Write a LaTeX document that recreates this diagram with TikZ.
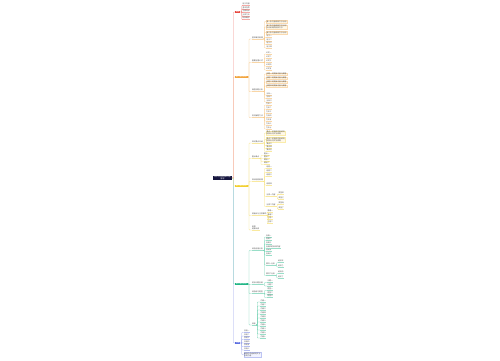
\documentclass[tikz,border=0pt]{standalone}
\usepackage{fontspec}
\newfontfamily\cjk{Noto Sans CJK SC}
\definecolor{cR}{HTML}{E8453C}
\definecolor{cO}{HTML}{F2A33A}
\definecolor{cY}{HTML}{F2CF2A}
\definecolor{cG}{HTML}{1DB584}
\definecolor{cB}{HTML}{5A6CE0}
\definecolor{cN}{HTML}{16163F}
\definecolor{bxO}{HTML}{FFF8E8}
\definecolor{bxB}{HTML}{F2F4FF}
\tikzset{
 tx/.style={font=\cjk\fontsize{1.8}{2.1}\selectfont, text=black!70, inner sep=0.3pt},
 lf/.style={tx, anchor=south west, inner ysep=0.4pt},
 l1/.style={tx, anchor=west, fill=#1, text=white, inner xsep=0.8pt, inner ysep=0.6pt},
 bxs/.style={tx, anchor=west, fill=bxO, draw=#1!40, line width=0.2pt, align=left, inner sep=0.5pt},
 cn/.style={draw=#1!60, line width=0.3pt, rounded corners=0.6pt},
 ul/.style={draw=#1!45, line width=0.25pt},
}
\newcommand\lf[4]{\node[lf] (#1) at (#3) {#4}; \draw[ul=#2] (#1.south west) -- (#1.south east);}
\newcommand\cnx[3]{\draw[cn=#1] (#2) -- ++(1.2,0) |- (#3);}
\begin{document}
\begin{tikzpicture}[x=1pt,y=-1pt]
\useasboundingbox (0,0) rectangle (500,360);
\fill[white] (0,0) rectangle (500,360);
% root
\node[tx, fill=cN, text=white, align=center, inner xsep=1pt, inner ysep=0.6pt] (root) at (222.5,178) {知识点总结思维导图\\整理};
% level 1
\node[l1=cR] (R) at (235,12) {概述};
\node[l1=cO] (O) at (235,77) {第一部分知识};
\node[l1=cY] (Y) at (235,186) {第二部分知识};
\node[l1=cG] (G) at (235,284) {第三部分知识};
\node[l1=cB] (B) at (235,343) {总结};
\draw[cn=cB] (root.east) -- (233.5,178) |- (B.west);
\draw[cn=cG] (root.east) -- (233.5,178) |- (G.west);
\draw[cn=cY] (root.east) -- (233.5,178) |- (Y.west);
\draw[cn=cO] (root.east) -- (233.5,178) |- (O.west);
\draw[cn=cR] (root.east) -- (233.5,178) |- (R.west);
% red
\foreach \y/\t [count=\i] in {5.5/定义内容,9/基本性质,12.5/主要特点,16/分类方法,19.5/相关概念}{
 \lf{r\i}{cR}{242,\y}{\t} \cnx{cR}{R.east}{r\i.south west}}
% orange
\lf{o1}{cO}{251.5,39}{基本概念梳理}
\lf{o2}{cO}{251.5,62.5}{重要定理公式}
\lf{o3}{cO}{251.5,91.5}{典型例题分析}
\lf{o4}{cO}{251.5,117.5}{常见解题方法}
\foreach \n in {o1,o2,o3,o4}{\cnx{cO}{O.east}{\n.south west}}
\node[bxs=cO] (ob1) at (266,21.5) {第一条内容说明文字示例};
\node[bxs=cO] (ob2) at (266,27) {第二条内容说明文字示例\\补充说明的相关文字};
\node[bxs=cO] (ob3) at (266,32.5) {第三条内容说明文字示例};
\foreach \n in {ob1,ob2,ob3}{\cnx{cO}{o1.south east}{\n.west}}
\foreach \y/\t [count=\i] in {37.5/定义一,41/定义二,44.5/定义三,48/定义四}{
 \lf{oa\i}{cO}{266,\y}{\t} \cnx{cO}{o1.south east}{oa\i.south west}}
\foreach \y/\t [count=\i] in {54/公式一,58/公式二,62/公式三,66/公式四,70/公式五}{
 \lf{ob\i x}{cO}{265.5,\y}{\t} \cnx{cO}{o2.south east}{ob\i x.south west}}
\node[bxs=cO] (oc1) at (266,74) {例题一的题目内容与解答};
\node[bxs=cO] (oc2) at (266,78) {例题二的题目内容与解答};
\node[bxs=cO] (oc3) at (266,82) {例题三的题目内容与解答};
\node[bxs=cO] (oc4) at (266,86) {例题四的题目内容与解答};
\foreach \n in {oc1,oc2,oc3,oc4}{\cnx{cO}{o3.south east}{\n.west}}
\foreach \y/\t [count=\i] in {95/分析一,98.5/分析二,102/分析三}{
 \lf{od\i}{cO}{266,\y}{\t} \cnx{cO}{o3.south east}{od\i.south west}}
\foreach \y/\t [count=\i] in {105/方法一,109/方法二,113/方法三,117/方法四,121/方法五,125/方法六,129/方法七}{
 \lf{oe\i}{cO}{265.5,\y}{\t} \cnx{cO}{o4.south east}{oe\i.south west}}
% yellow
\lf{y1}{cY}{251.5,143}{知识要点归纳}
\lf{y2}{cY}{251.5,158.5}{重点难点}
\lf{y3}{cY}{251.5,181.5}{知识结构梳理}
\lf{y4}{cY}{251.5,215.5}{易错点与注意事项}
\node[lf, align=left] (y5) at (251.5,230) {拓展\\延伸阅读};
\draw[ul=cY] (y5.south west) -- (y5.south east);
\foreach \n in {y1,y2,y3,y4,y5}{\cnx{cY}{Y.east}{\n.south west}}
\node[bxs=cY] (yb1) at (266,133) {要点一的具体内容说明\\相关补充文字说明};
\node[bxs=cY] (yb2) at (266,139.5) {要点二的具体内容说明\\相关补充文字说明};
\foreach \n in {yb1,yb2}{\cnx{cY}{y1.south east}{\n.west}}
\foreach \y/\t [count=\i] in {145.5/要点三,148.5/要点四,151.5/要点五}{
 \lf{ya\i}{cY}{266,\y}{\t} \cnx{cY}{y1.south east}{ya\i.south west}}
\foreach \y/\t [count=\i] in {155.5/重点一,158.5/重点二,161.5/难点一,164.5/难点二}{
 \lf{yc\i}{cY}{263.5,\y}{\t} \cnx{cY}{y2.south east}{yc\i.south west}}
\foreach \y/\t [count=\i] in {168.5/结构一,172.5/结构二,176.5/结构三,185/结构四}{
 \lf{yd\i}{cY}{266,\y}{\t} \cnx{cY}{y3.south east}{yd\i.south west}}
\lf{ys1}{cY}{266,196.5}{分类一内容}
\lf{ys2}{cY}{266,206.5}{分类二内容}
\foreach \n in {ys1,ys2}{\cnx{cY}{y3.south east}{\n.south west}}
\lf{ys1a}{cY}{278,194}{类型甲}
\lf{ys1b}{cY}{278,199}{类型乙}
\lf{ys2a}{cY}{278,204}{类型丙}
\lf{ys2b}{cY}{278,209}{类型丁}
\cnx{cY}{ys1.south east}{ys1a.south west}
\cnx{cY}{ys1.south east}{ys1b.south west}
\cnx{cY}{ys2.south east}{ys2a.south west}
\cnx{cY}{ys2.south east}{ys2b.south west}
\foreach \y/\t [count=\i] in {212.5/易错一,216/易错二,219.5/注意一,223/注意二}{
 \lf{ye\i}{cY}{267,\y}{\t} \cnx{cY}{y4.south east}{ye\i.south west}}
% green
\lf{g1}{cG}{251.5,250.5}{综合应用分析}
\lf{g2}{cG}{251.5,284.5}{实际问题应用}
\lf{g3}{cG}{251.5,293.5}{综合练习题型}
\lf{g4}{cG}{251.5,325}{其他}
\foreach \n in {g1,g2,g3,g4}{\cnx{cG}{G.east}{\n.south west}}
\foreach \y/\t [count=\i] in {237/应用一,240.5/应用二,244/应用三,251.5/应用五,255/应用六}{
 \lf{ga\i}{cG}{265.5,\y}{\t} \cnx{cG}{g1.south east}{ga\i.south west}}
\lf{gl}{cG}{265.5,248}{应用四的具体内容}
\cnx{cG}{g1.south east}{gl.south west}
\lf{gs1}{cG}{265.5,265}{情况一分析}
\lf{gs2}{cG}{265.5,275.5}{情况二分析}
\foreach \n in {gs1,gs2}{\cnx{cG}{g1.south east}{\n.south west}}
\lf{gs1a}{cG}{277.5,262.5}{结论甲}
\lf{gs1b}{cG}{277.5,267}{结论乙}
\lf{gs2a}{cG}{277.5,273.5}{结论丙}
\lf{gs2b}{cG}{277.5,278}{结论丁}
\cnx{cG}{gs1.south east}{gs1a.south west}
\cnx{cG}{gs1.south east}{gs1b.south west}
\cnx{cG}{gs2.south east}{gs2a.south west}
\cnx{cG}{gs2.south east}{gs2b.south west}
\foreach \y/\t [count=\i] in {282.5/问题一,286/问题二}{
 \lf{gb\i}{cG}{267,\y}{\t} \cnx{cG}{g2.south east}{gb\i.south west}}
\foreach \y/\t [count=\i] in {290.5/题型一,294/题型二,297.5/题型三}{
 \lf{gc\i}{cG}{267,\y}{\t} \cnx{cG}{g3.south east}{gc\i.south west}}
\foreach \y/\t [count=\i] in {302/内容一,306/内容二,310/内容三,314/内容四,318/内容五,322/内容六,326/内容七,330/内容八,334/内容九,338/内容十}{
 \lf{gd\i}{cG}{260,\y}{\t} \cnx{cG}{g4.south east}{gd\i.south west}}
% blue
\foreach \y/\t [count=\i] in {332.5/总结一,336/总结二,339.5/总结三,343/总结四,346.5/总结五,350/总结六}{
 \lf{b\i}{cB}{243.5,\y}{\t} \cnx{cB}{B.east}{b\i.south west}}
\node[bxs=cB, fill=bxB] (bb) at (243.5,354.5) {最后的总结说明文字\\补充内容};
\cnx{cB}{B.east}{bb.west}
\end{tikzpicture}
\end{document}
